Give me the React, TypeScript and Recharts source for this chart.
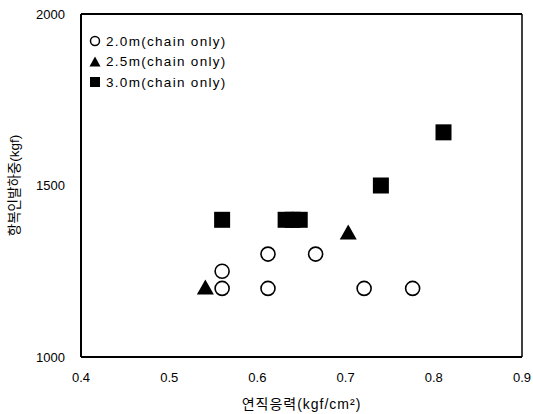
import React from 'react';
import { ScatterChart, Scatter, XAxis, YAxis, ReferenceLine } from 'recharts';

const FONT = '"Liberation Sans", Arial, "Noto Sans CJK KR", sans-serif';

const xTicks = [0.4, 0.5, 0.6, 0.7, 0.8, 0.9];
const yTicks = [1000, 1500, 2000];

// 2.0m (chain only) - open circles
const s20x = [0.56, 0.56, 0.612, 0.612, 0.666, 0.721, 0.776];
const s20y = [1200, 1250, 1200, 1300, 1300, 1200, 1200];
// 2.5m (chain only) - filled triangles
const s25x = [0.541, 0.703];
const s25y = [1200, 1360];
// 3.0m (chain only) - filled squares
const s30x = [0.56, 0.632, 0.64, 0.648, 0.74, 0.811];
const s30y = [1400, 1400, 1400, 1400, 1500, 1655];

const seriesNames = ['2.0m(chain only)', '2.5m(chain only)', '3.0m(chain only)'];

const toPoints = (xs: number[], ys: number[]) => xs.map((x, i) => ({ x, y: ys[i] }));

const CircleShape = (props: any) => (
  <circle cx={props.cx} cy={props.cy} r={7} fill="#fff" stroke="#000" strokeWidth={1.6} />
);
const TriangleShape = (props: any) => {
  const { cx, cy } = props;
  return <polygon points={`${cx},${cy - 9} ${cx + 8.5},${cy + 6} ${cx - 8.5},${cy + 6}`} fill="#000" />;
};
const SquareShape = (props: any) => (
  <rect x={props.cx - 8} y={props.cy - 8} width={16} height={16} fill="#000" />
);

const LegendBox = () => {
  const icons = [
    <circle cx={6} cy={7} r={4.5} fill="#fff" stroke="#000" strokeWidth={1.5} />,
    <polygon points="6,1.5 11.5,11.5 0.5,11.5" fill="#000" />,
    <rect x={1} y={2} width={10} height={10} fill="#000" />,
  ];
  return (
    <div style={{ position: 'absolute', left: 89, top: 31, fontFamily: FONT, fontSize: 13.5, color: '#000' }}>
      {seriesNames.map((n, i) => (
        <div key={n} style={{ display: 'flex', alignItems: 'center', height: 20.5 }}>
          <svg width={12} height={14} style={{ marginRight: 5 }}>{icons[i]}</svg>
          <span style={{ letterSpacing: 1.3 }}>{n}</span>
        </div>
      ))}
    </div>
  );
};

export default function App() {
  return (
    <div style={{ position: 'absolute', left: 0, top: 0, width: 533, height: 414, background: '#fff' }}>
      <ScatterChart width={533} height={414} margin={{ top: 14, right: 11, bottom: 27, left: 0 }}>
        <XAxis
          type="number"
          dataKey="x"
          domain={[0.4, 0.9]}
          ticks={xTicks}
          height={30}
          tickFormatter={(v) => String(v)}
          tickLine={false}
          axisLine={{ stroke: '#000', strokeWidth: 2 }}
          tick={{ fill: '#000', fontSize: 13, fontFamily: FONT }}
          tickMargin={10}
          label={{ value: '연직응력(kgf/cm²)', position: 'insideBottom', offset: -22, fill: '#000', fontSize: 14, fontFamily: FONT, letterSpacing: 1 }}
        />
        <YAxis
          type="number"
          dataKey="y"
          domain={[1000, 2000]}
          ticks={yTicks}
          width={81}
          tickLine={false}
          axisLine={{ stroke: '#000', strokeWidth: 2 }}
          tick={{ fill: '#000', fontSize: 13, fontFamily: FONT }}
          tickMargin={10}
          label={{ value: '항복인발하중(kgf)', angle: -90, position: 'insideLeft', offset: 14, fill: '#000', fontSize: 13.5, fontFamily: FONT, style: { textAnchor: 'middle' } }}
        />
        {/* top and right frame */}
        <ReferenceLine y={2000} stroke="#000" strokeWidth={2} />
        <ReferenceLine x={0.9} stroke="#000" strokeWidth={1.5} />
        <Scatter name={seriesNames[0]} data={toPoints(s20x, s20y)} shape={<CircleShape />} isAnimationActive={false} />
        <Scatter name={seriesNames[1]} data={toPoints(s25x, s25y)} shape={<TriangleShape />} isAnimationActive={false} />
        <Scatter name={seriesNames[2]} data={toPoints(s30x, s30y)} shape={<SquareShape />} isAnimationActive={false} />
      </ScatterChart>
      <LegendBox />
    </div>
  );
}
